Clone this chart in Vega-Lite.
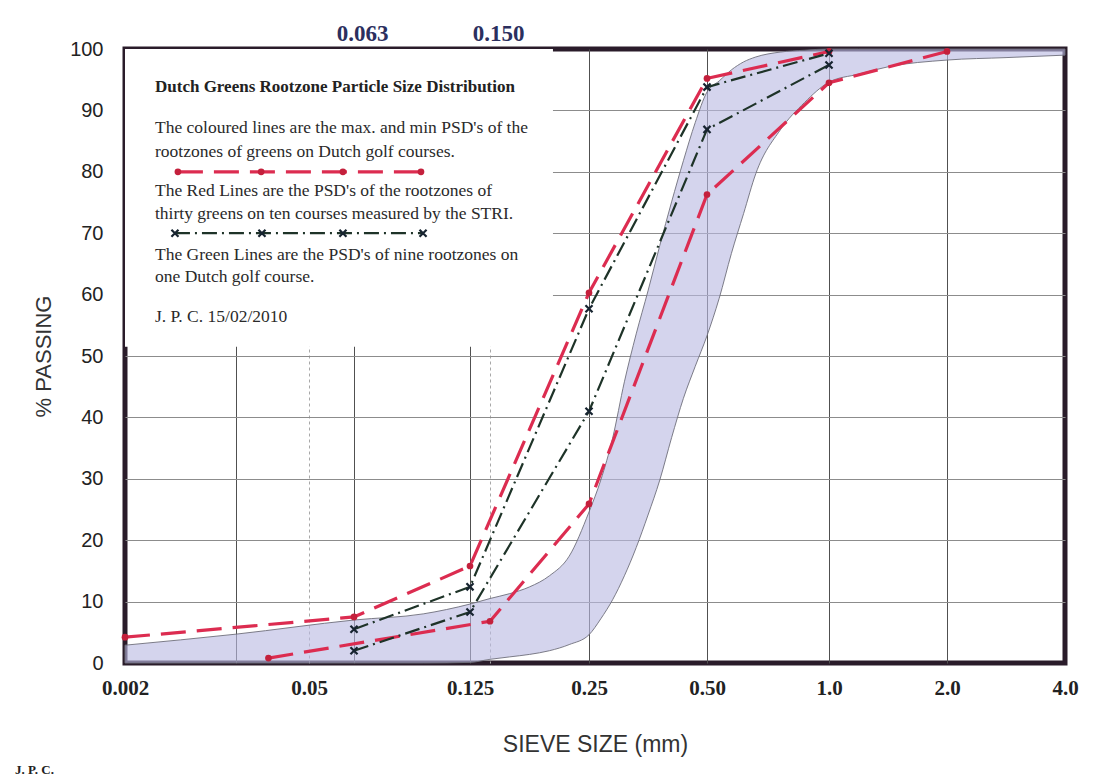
{
  "$schema": "https://vega.github.io/schema/vega-lite/v6.json",
  "width": 940,
  "height": 614,
  "autosize": {"type": "none"},
  "padding": {"left": 125, "top": 49, "right": 44, "bottom": 119},
  "background": "white",
  "title": {"text": "J. P. C.", "orient": "bottom", "anchor": "start", "frame": "group", "font": "Liberation Serif", "fontSize": 13, "fontWeight": "bold", "color": "#222222", "dx": -110, "offset": 8},
  "config": {"view": {"stroke": "#2a1c2a", "strokeWidth": 5}},
  "datasets": {
    "band": [
      {"size": 0.002, "upper": 2.9, "lower": 0},
      {"size": 0.032, "upper": 4.7, "lower": 0},
      {"size": 0.063, "upper": 7.0, "lower": 0},
      {"size": 0.1, "upper": 8.0, "lower": 0},
      {"size": 0.125, "upper": 9.6, "lower": 0.1},
      {"size": 0.15, "upper": 10.5, "lower": 0.6},
      {"size": 0.17, "upper": 11.3, "lower": 1.0},
      {"size": 0.19, "upper": 12.4, "lower": 1.4},
      {"size": 0.21, "upper": 14.2, "lower": 2.0},
      {"size": 0.23, "upper": 17.4, "lower": 3.0},
      {"size": 0.25, "upper": 24.6, "lower": 4.6},
      {"size": 0.275, "upper": 29.8, "lower": 7.2},
      {"size": 0.3, "upper": 36.6, "lower": 10.3},
      {"size": 0.325, "upper": 45.8, "lower": 14.2},
      {"size": 0.35, "upper": 53.6, "lower": 18.8},
      {"size": 0.375, "upper": 60.6, "lower": 24.1},
      {"size": 0.4, "upper": 68.0, "lower": 29.8},
      {"size": 0.425, "upper": 75.1, "lower": 36.7},
      {"size": 0.45, "upper": 81.8, "lower": 43.1},
      {"size": 0.475, "upper": 88.0, "lower": 48.3},
      {"size": 0.5, "upper": 93.0, "lower": 53.3},
      {"size": 0.55, "upper": 94.8, "lower": 59.4},
      {"size": 0.6, "upper": 96.6, "lower": 66.7},
      {"size": 0.65, "upper": 97.9, "lower": 73.2},
      {"size": 0.7, "upper": 98.7, "lower": 79.7},
      {"size": 0.8, "upper": 99.5, "lower": 86.8},
      {"size": 0.9, "upper": 99.8, "lower": 91.3},
      {"size": 1.0, "upper": 100, "lower": 94.6},
      {"size": 1.25, "upper": 100, "lower": 95.9},
      {"size": 1.5, "upper": 100, "lower": 97.1},
      {"size": 2.0, "upper": 100, "lower": 98.2},
      {"size": 3.0, "upper": 100, "lower": 98.6},
      {"size": 4.0, "upper": 100, "lower": 99.0}
    ],
    "lines": [
      {"group": "Red", "line": "Red max", "size": 0.002, "pass": 4.2},
      {"group": "Red", "line": "Red max", "size": 0.063, "pass": 7.5},
      {"group": "Red", "line": "Red max", "size": 0.125, "pass": 15.8},
      {"group": "Red", "line": "Red max", "size": 0.25, "pass": 60.3},
      {"group": "Red", "line": "Red max", "size": 0.5, "pass": 95.2},
      {"group": "Red", "line": "Red max", "size": 1.0, "pass": 99.6},
      {"group": "Red", "line": "Red min", "size": 0.04, "pass": 0.8},
      {"group": "Red", "line": "Red min", "size": 0.15, "pass": 6.8},
      {"group": "Red", "line": "Red min", "size": 0.25, "pass": 25.9},
      {"group": "Red", "line": "Red min", "size": 0.5, "pass": 76.3},
      {"group": "Red", "line": "Red min", "size": 1.0, "pass": 94.5},
      {"group": "Red", "line": "Red min", "size": 2.0, "pass": 99.6},
      {"group": "Green", "line": "Green max", "size": 0.063, "pass": 5.5},
      {"group": "Green", "line": "Green max", "size": 0.125, "pass": 12.4},
      {"group": "Green", "line": "Green max", "size": 0.25, "pass": 57.7},
      {"group": "Green", "line": "Green max", "size": 0.5, "pass": 93.8},
      {"group": "Green", "line": "Green max", "size": 1.0, "pass": 99.3},
      {"group": "Green", "line": "Green min", "size": 0.063, "pass": 2.0},
      {"group": "Green", "line": "Green min", "size": 0.125, "pass": 8.3},
      {"group": "Green", "line": "Green min", "size": 0.25, "pass": 41.0},
      {"group": "Green", "line": "Green min", "size": 0.5, "pass": 86.9},
      {"group": "Green", "line": "Green min", "size": 1.0, "pass": 97.4},
      {"group": "Red", "line": "Red key", "size": 0.0163, "pass": 80},
      {"group": "Red", "line": "Red key", "size": 0.0382, "pass": 80},
      {"group": "Red", "line": "Red key", "size": 0.0598, "pass": 80},
      {"group": "Red", "line": "Red key", "size": 0.0988, "pass": 80},
      {"group": "Green", "line": "Green key", "size": 0.0155, "pass": 70},
      {"group": "Green", "line": "Green key", "size": 0.0384, "pass": 70},
      {"group": "Green", "line": "Green key", "size": 0.0598, "pass": 70},
      {"group": "Green", "line": "Green key", "size": 0.0999, "pass": 70}
    ]
  },
  "resolve": {"axis": {"x": "independent", "y": "independent"}},
  "layer": [
    {
      "data": {"values": [{}]},
      "mark": {"type": "rect", "fill": "white"},
      "encoding": {
        "x": {"datum": 0.002, "type": "quantitative", "axis": null,
              "scale": {"type": "linear", "domain": [0.002, 0.032, 0.05, 0.063, 0.125, 0.15, 0.25, 0.5, 1, 2, 4], "range": [0, 111, 184, 229, 345, 365, 464, 582, 704, 822, 940], "nice": false, "zero": false}},
        "x2": {"datum": 0.2136},
        "y": {"datum": 51.5, "type": "quantitative", "axis": null, "scale": {"domain": [0, 100], "nice": false, "zero": false}},
        "y2": {"datum": 100}
      }
    },
    {
      "data": {"name": "band"},
      "mark": {"type": "area", "interpolate": "monotone", "fill": "#b9b9e2", "fillOpacity": 0.62, "stroke": "#6e6e7a", "strokeWidth": 0.9},
      "encoding": {
        "x": {"field": "size", "type": "quantitative",
              "scale": {"type": "linear", "domain": [0.002, 0.032, 0.05, 0.063, 0.125, 0.15, 0.25, 0.5, 1, 2, 4], "range": [0, 111, 184, 229, 345, 365, 464, 582, 704, 822, 940], "nice": false, "zero": false},
              "axis": {
                "orient": "bottom",
                "values": [0.002, 0.032, 0.05, 0.063, 0.125, 0.15, 0.25, 0.5, 1, 2, 4],
                "labelExpr": "datum.value == 0.002 ? '0.002' : datum.value == 0.05 ? '0.05' : datum.value == 0.125 ? '0.125' : datum.value == 0.25 ? '0.25' : datum.value == 0.5 ? '0.50' : datum.value == 1 ? '1.0' : datum.value == 2 ? '2.0' : datum.value == 4 ? '4.0' : ''",
                "grid": true,
                "gridColor": {"condition": {"test": "datum.value == 0.05 || datum.value == 0.15", "value": "#a8a8a8"}, "value": "#505050"},
                "gridDash": {"condition": {"test": "datum.value == 0.05 || datum.value == 0.15", "value": [3, 3]}, "value": []},
                "gridOpacity": {"condition": {"test": "datum.value == 0.002 || datum.value == 4", "value": 0}, "value": 1},
                "gridWidth": 1,
                "ticks": false,
                "domain": false,
                "labelFont": "Liberation Serif",
                "labelFontWeight": "bold",
                "labelFontSize": 21,
                "labelColor": "#222222",
                "labelPadding": 14,
                "labelOverlap": false,
                "labelFlush": false,
                "title": "SIEVE SIZE (mm)",
                "titleFont": "Liberation Sans",
                "titleFontSize": 23,
                "titleFontWeight": "normal",
                "titleColor": "#333333",
                "titlePadding": 35
              }},
        "y": {"field": "upper", "type": "quantitative",
              "scale": {"domain": [0, 100], "nice": false, "zero": false},
              "axis": {
                "values": [0, 10, 20, 30, 40, 50, 60, 70, 80, 90, 100],
                "grid": true,
                "gridColor": "#8c8c8c",
                "gridOpacity": {"condition": {"test": "datum.value == 0 || datum.value == 100", "value": 0}, "value": 1},
                "ticks": false,
                "domain": false,
                "labelFont": "Liberation Sans",
                "labelFontSize": 20,
                "labelColor": "#222222",
                "labelPadding": 22,
                "title": "% PASSING",
                "titleFont": "Liberation Sans",
                "titleFontSize": 22,
                "titleFontWeight": "normal",
                "titleColor": "#333333",
                "titlePadding": 14
              }},
        "y2": {"field": "lower"}
      }
    },
    {
      "data": {"name": "lines"},
      "transform": [{"filter": "datum.group === 'Red'"}],
      "mark": {"type": "line", "color": "#dc2c50", "strokeWidth": 3.2, "strokeDash": [25, 11]},
      "encoding": {
        "x": {"field": "size", "type": "quantitative",
              "scale": {"type": "linear", "domain": [0.002, 0.032, 0.05, 0.063, 0.125, 0.15, 0.25, 0.5, 1, 2, 4], "range": [0, 111, 184, 229, 345, 365, 464, 582, 704, 822, 940], "nice": false, "zero": false},
              "axis": {
                "orient": "top",
                "values": [0.063, 0.15],
                "labelExpr": "datum.value == 0.063 ? '0.063' : '0.150'",
                "grid": false,
                "ticks": false,
                "domain": false,
                "labelFont": "Liberation Serif",
                "labelFontWeight": "bold",
                "labelFontSize": 23,
                "labelColor": "#2b2f5e",
                "labelPadding": 4,
                "labelOffset": 8,
                "labelFlush": false,
                "labelOverlap": false,
                "title": null
              }},
        "y": {"field": "pass", "type": "quantitative", "axis": null, "scale": {"domain": [0, 100], "nice": false, "zero": false}},
        "detail": {"field": "line"}
      }
    },
    {
      "data": {"name": "lines"},
      "transform": [{"filter": "datum.group === 'Green'"}],
      "mark": {"type": "line", "color": "#1e3328", "strokeWidth": 2.2, "strokeDash": [15, 5, 2, 5]},
      "encoding": {
        "x": {"field": "size", "type": "quantitative", "axis": null,
              "scale": {"type": "linear", "domain": [0.002, 0.032, 0.05, 0.063, 0.125, 0.15, 0.25, 0.5, 1, 2, 4], "range": [0, 111, 184, 229, 345, 365, 464, 582, 704, 822, 940], "nice": false, "zero": false}},
        "y": {"field": "pass", "type": "quantitative", "axis": null, "scale": {"domain": [0, 100], "nice": false, "zero": false}},
        "detail": {"field": "line"}
      }
    },
    {
      "data": {"name": "lines"},
      "transform": [{"filter": "datum.group === 'Red'"}],
      "mark": {"type": "point", "shape": "circle", "filled": true, "color": "#c4203c", "size": 45, "opacity": 1},
      "encoding": {
        "x": {"field": "size", "type": "quantitative", "axis": null,
              "scale": {"type": "linear", "domain": [0.002, 0.032, 0.05, 0.063, 0.125, 0.15, 0.25, 0.5, 1, 2, 4], "range": [0, 111, 184, 229, 345, 365, 464, 582, 704, 822, 940], "nice": false, "zero": false}},
        "y": {"field": "pass", "type": "quantitative", "axis": null, "scale": {"domain": [0, 100], "nice": false, "zero": false}}
      }
    },
    {
      "data": {"name": "lines"},
      "transform": [{"filter": "datum.group === 'Green'"}],
      "mark": {"type": "point", "shape": "M-1,-1L1,1M1,-1L-1,1", "filled": false, "stroke": "#172430", "strokeWidth": 2.2, "size": 50, "opacity": 1},
      "encoding": {
        "x": {"field": "size", "type": "quantitative", "axis": null,
              "scale": {"type": "linear", "domain": [0.002, 0.032, 0.05, 0.063, 0.125, 0.15, 0.25, 0.5, 1, 2, 4], "range": [0, 111, 184, 229, 345, 365, 464, 582, 704, 822, 940], "nice": false, "zero": false}},
        "y": {"field": "pass", "type": "quantitative", "axis": null, "scale": {"domain": [0, 100], "nice": false, "zero": false}}
      }
    },
    {
      "data": {"values": [{}]},
      "mark": {"type": "text", "text": "Dutch Greens Rootzone Particle Size Distribution", "font": "Liberation Serif", "fontWeight": "bold", "fontSize": 17, "color": "#222222", "align": "left", "baseline": "middle", "dx": 30},
      "encoding": {
        "x": {"datum": 0.002, "type": "quantitative", "axis": null,
              "scale": {"type": "linear", "domain": [0.002, 0.032, 0.05, 0.063, 0.125, 0.15, 0.25, 0.5, 1, 2, 4], "range": [0, 111, 184, 229, 345, 365, 464, 582, 704, 822, 940], "nice": false, "zero": false}},
        "y": {"datum": 93.8, "type": "quantitative", "axis": null, "scale": {"domain": [0, 100], "nice": false, "zero": false}}
      }
    },
    {
      "data": {"values": [{}]},
      "mark": {"type": "text", "text": ["The coloured lines are the max. and min PSD's of the", "rootzones of greens on Dutch golf courses."], "lineHeight": 24, "font": "Liberation Serif", "fontSize": 17.5, "color": "#2a2a2a", "align": "left", "baseline": "middle", "dx": 30},
      "encoding": {
        "x": {"datum": 0.002, "type": "quantitative", "axis": null,
              "scale": {"type": "linear", "domain": [0.002, 0.032, 0.05, 0.063, 0.125, 0.15, 0.25, 0.5, 1, 2, 4], "range": [0, 111, 184, 229, 345, 365, 464, 582, 704, 822, 940], "nice": false, "zero": false}},
        "y": {"datum": 87.1, "type": "quantitative", "axis": null, "scale": {"domain": [0, 100], "nice": false, "zero": false}}
      }
    },
    {
      "data": {"values": [{}]},
      "mark": {"type": "text", "text": ["The Red Lines are the PSD's of the rootzones of", "thirty greens on ten courses measured by the STRI."], "lineHeight": 23, "font": "Liberation Serif", "fontSize": 17.5, "color": "#2a2a2a", "align": "left", "baseline": "middle", "dx": 30},
      "encoding": {
        "x": {"datum": 0.002, "type": "quantitative", "axis": null,
              "scale": {"type": "linear", "domain": [0.002, 0.032, 0.05, 0.063, 0.125, 0.15, 0.25, 0.5, 1, 2, 4], "range": [0, 111, 184, 229, 345, 365, 464, 582, 704, 822, 940], "nice": false, "zero": false}},
        "y": {"datum": 76.9, "type": "quantitative", "axis": null, "scale": {"domain": [0, 100], "nice": false, "zero": false}}
      }
    },
    {
      "data": {"values": [{}]},
      "mark": {"type": "text", "text": ["The Green Lines are the PSD's of nine rootzones on", "one Dutch golf course."], "lineHeight": 22, "font": "Liberation Serif", "fontSize": 17.5, "color": "#2a2a2a", "align": "left", "baseline": "middle", "dx": 30},
      "encoding": {
        "x": {"datum": 0.002, "type": "quantitative", "axis": null,
              "scale": {"type": "linear", "domain": [0.002, 0.032, 0.05, 0.063, 0.125, 0.15, 0.25, 0.5, 1, 2, 4], "range": [0, 111, 184, 229, 345, 365, 464, 582, 704, 822, 940], "nice": false, "zero": false}},
        "y": {"datum": 66.4, "type": "quantitative", "axis": null, "scale": {"domain": [0, 100], "nice": false, "zero": false}}
      }
    },
    {
      "data": {"values": [{}]},
      "mark": {"type": "text", "text": "J. P. C. 15/02/2010", "font": "Liberation Serif", "fontSize": 17.5, "color": "#2a2a2a", "align": "left", "baseline": "middle", "dx": 30},
      "encoding": {
        "x": {"datum": 0.002, "type": "quantitative", "axis": null,
              "scale": {"type": "linear", "domain": [0.002, 0.032, 0.05, 0.063, 0.125, 0.15, 0.25, 0.5, 1, 2, 4], "range": [0, 111, 184, 229, 345, 365, 464, 582, 704, 822, 940], "nice": false, "zero": false}},
        "y": {"datum": 56.4, "type": "quantitative", "axis": null, "scale": {"domain": [0, 100], "nice": false, "zero": false}}
      }
    }
  ]
}
